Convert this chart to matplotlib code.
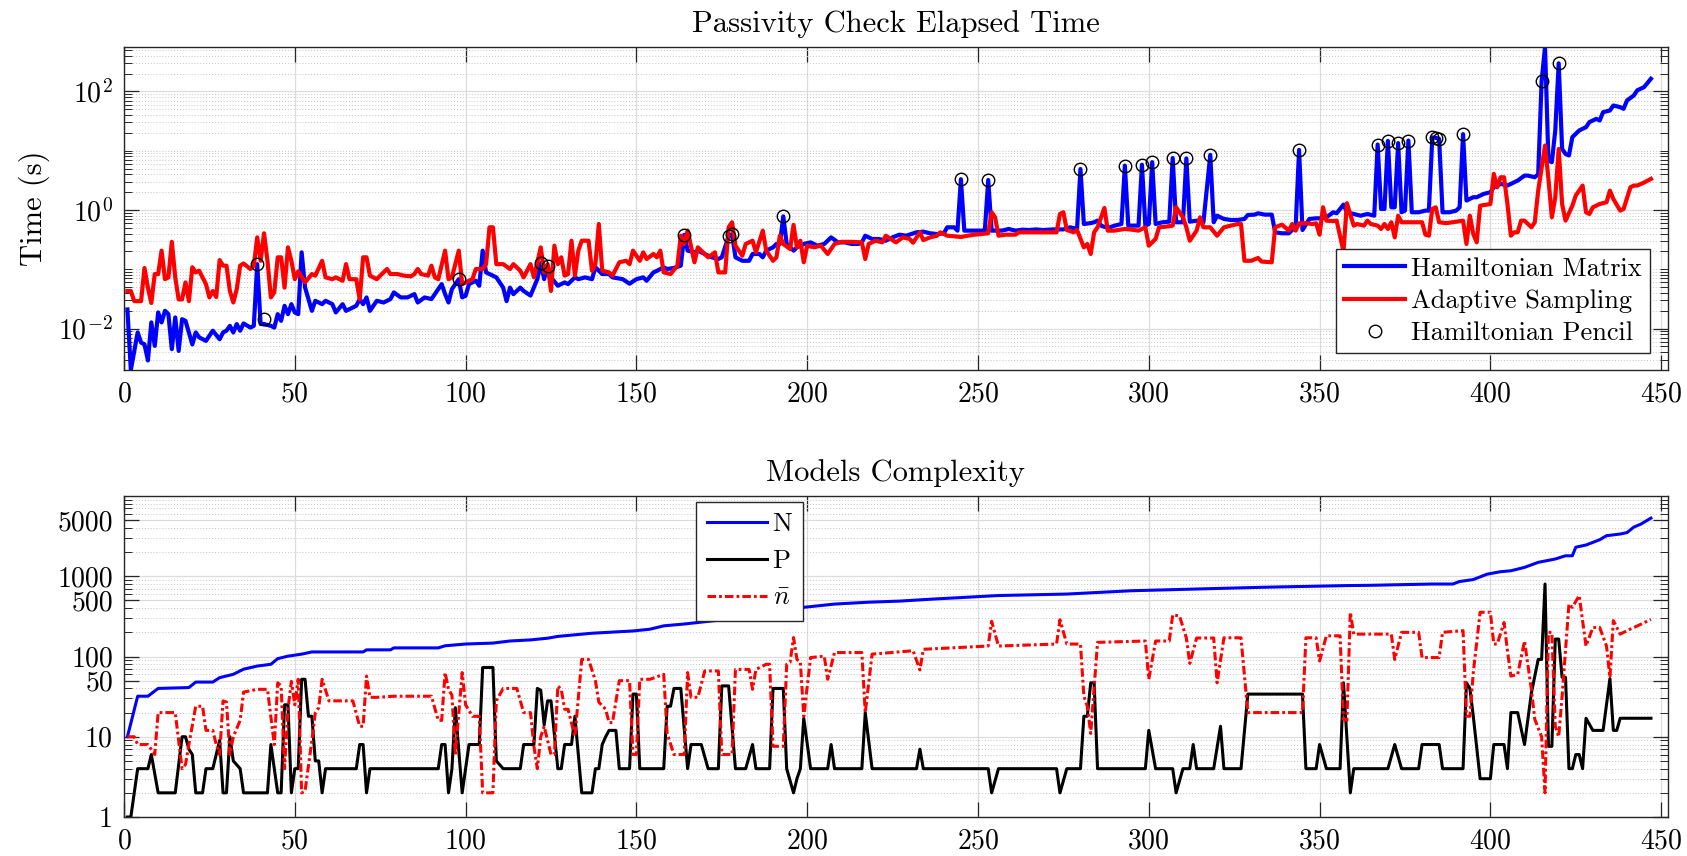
import numpy as np
import matplotlib.pyplot as plt
from matplotlib.ticker import FixedLocator, NullFormatter

plt.rcParams['font.family'] = 'serif'
plt.rcParams['font.serif'] = ['cmr10']
plt.rcParams['mathtext.fontset'] = 'cm'
plt.rcParams['axes.formatter.use_mathtext'] = True

# --- passivity check timings (s), vertices by model index ---
ham_x = [1, 2, 4, 5, 6, 7, 8, 9, 10, 11, 12, 13, 14, 15, 16, 17, 18, 20, 21, 22,
         24, 26, 28, 29, 30, 31, 32, 33, 34, 35, 37, 38, 39, 40, 41, 43, 44, 45, 46, 47,
         48, 49, 50, 51, 52, 53, 55, 56, 58, 59, 61, 62, 64, 65, 67, 68, 69, 70, 71, 72,
         74, 76, 78, 79, 81, 83, 85, 86, 88, 90, 91, 93, 94, 95, 96, 98, 99, 100, 101, 103,
         104, 105, 106, 108, 109, 111, 112, 113, 114, 116, 117, 119, 121, 122, 123, 124, 125, 127, 129, 130,
         132, 133, 135, 137, 138, 140, 142, 143, 146, 148, 150, 152, 153, 155, 156, 158, 159, 161, 163, 164,
         165, 167, 168, 170, 172, 174, 175, 177, 178, 179, 181, 183, 184, 186, 187, 188, 190, 191, 192, 193,
         194, 196, 197, 199, 201, 203, 205, 207, 209, 211, 213, 215, 216, 217, 219, 221, 223, 225, 227, 229,
         232, 234, 236, 238, 240, 241, 243, 244, 245, 246, 249, 252, 253, 254, 257, 259, 261, 263, 265, 267,
         269, 272, 275, 277, 279, 280, 281, 283, 284, 285, 286, 288, 290, 292, 293, 294, 297, 298, 299, 300,
         301, 302, 304, 306, 307, 308, 310, 311, 312, 314, 316, 318, 319, 320, 322, 324, 326, 328, 329, 331,
         332, 334, 336, 337, 339, 341, 343, 344, 345, 347, 349, 350, 352, 354, 355, 357, 358, 360, 362, 364,
         366, 367, 368, 369, 370, 371, 372, 373, 374, 375, 376, 377, 379, 381, 382, 383, 384, 385, 386, 388,
         390, 391, 392, 393, 395, 396, 398, 400, 401, 403, 405, 406, 408, 410, 411, 413, 414, 415, 416, 417,
         418, 419, 420, 421, 422, 423, 424, 426, 428, 429, 431, 432, 433, 435, 436, 438, 439, 440, 442, 443,
         445, 447]
ham_t = [0.021, 0.002, 0.0086, 0.0058, 0.0054, 0.0029, 0.0127, 0.0051, 0.0187, 0.0127, 0.0199, 0.0175, 0.0045, 0.0154, 0.0042, 0.0144, 0.0135, 0.0054, 0.0086, 0.0071,
         0.0062, 0.0092, 0.0066, 0.0086, 0.0092, 0.0111, 0.0086, 0.0119, 0.0092, 0.0122, 0.0104, 0.0111, 0.122, 0.0119, 0.0119, 0.0111, 0.0104, 0.0175, 0.0135, 0.0242,
         0.0175, 0.0258, 0.0187, 0.0175, 0.193, 0.0494, 0.0199, 0.0294, 0.0258, 0.0294, 0.0258, 0.0187, 0.0258, 0.0199, 0.0227, 0.0242, 0.0314, 0.0258, 0.0335, 0.0199,
         0.0294, 0.0275, 0.0314, 0.0407, 0.0335, 0.0335, 0.0381, 0.0275, 0.0335, 0.0314, 0.0381, 0.0562, 0.0381, 0.0275, 0.0463, 0.068, 0.0335, 0.0357, 0.0562, 0.064,
         0.0527, 0.206, 0.0885, 0.078, 0.073, 0.049, 0.029, 0.049, 0.038, 0.049, 0.043, 0.036, 0.068, 0.127, 0.068, 0.115, 0.073, 0.0527, 0.060, 0.0562,
         0.073, 0.068, 0.073, 0.068, 0.108, 0.083, 0.083, 0.073, 0.068, 0.057, 0.068, 0.073, 0.064, 0.0885, 0.094, 0.108, 0.101, 0.105, 0.115, 0.38,
         0.206, 0.193, 0.206, 0.181, 0.159, 0.149, 0.159, 0.36, 0.39, 0.159, 0.139, 0.139, 0.181, 0.181, 0.159, 0.206, 0.234, 0.267, 0.267, 0.78,
         0.267, 0.206, 0.234, 0.267, 0.284, 0.25, 0.267, 0.345, 0.284, 0.284, 0.267, 0.267, 0.284, 0.368, 0.324, 0.324, 0.303, 0.345, 0.383, 0.368,
         0.42, 0.431, 0.404, 0.393, 0.404, 0.51, 0.51, 0.448, 3.3, 0.448, 0.448, 0.448, 3.2, 0.448, 0.448, 0.478, 0.448, 0.465, 0.459, 0.47,
         0.459, 0.47, 0.47, 0.51, 0.478, 4.9, 0.58, 0.6, 0.62, 0.66, 0.544, 0.497, 0.544, 0.58, 5.6, 0.544, 0.544, 5.8, 0.544, 0.58,
         6.4, 0.58, 0.62, 0.635, 7.5, 0.62, 0.62, 7.4, 0.635, 0.66, 0.62, 8.5, 0.62, 0.80, 0.705, 0.678, 0.678, 0.705, 0.823, 0.834,
         0.879, 0.834, 0.834, 0.42, 0.404, 0.404, 0.523, 10.3, 0.459, 0.705, 0.723, 0.723, 0.752, 0.914, 0.879, 1.23, 0.914, 0.856, 0.80, 0.856,
         0.80, 12.7, 1.04, 1.04, 14.6, 1.11, 1.11, 13.4, 0.914, 0.975, 14.8, 0.914, 0.914, 0.975, 0.975, 16.7, 16.5, 15.8, 0.914, 0.914,
         0.975, 1.11, 19.0, 1.44, 1.64, 1.64, 1.86, 1.99, 2.41, 2.75, 2.58, 2.75, 3.13, 3.80, 3.80, 3.56, 4.0, 149.0, 560.0, 6.8,
         6.4, 22.0, 297.0, 10.7, 8.8, 8.3, 16.9, 21.9, 24.9, 30.3, 34.4, 32.3, 44.6, 47.6, 57.8, 54.2, 50.8, 70.3, 85.3, 104.0,
         118.0, 163.0]

ada_x = [1, 2, 3, 5, 6, 7, 8, 9, 10, 11, 12, 13, 14, 15, 16, 17, 18, 19, 20, 21,
         22, 23, 24, 25, 26, 27, 28, 29, 30, 31, 32, 33, 34, 35, 37, 38, 39, 40, 41, 42,
         43, 44, 45, 46, 47, 48, 49, 50, 51, 53, 55, 56, 58, 59, 61, 62, 64, 65, 66, 68,
         69, 70, 71, 72, 74, 75, 77, 78, 80, 82, 84, 85, 86, 87, 89, 90, 91, 92, 94, 95,
         96, 98, 99, 101, 102, 103, 105, 106, 107, 108, 109, 111, 113, 114, 116, 117, 119, 120, 121, 122,
         123, 124, 125, 126, 127, 128, 129, 130, 131, 132, 133, 134, 136, 137, 138, 139, 140, 142, 143, 145,
         147, 148, 149, 151, 152, 153, 155, 156, 157, 158, 160, 162, 163, 164, 165, 167, 168, 170, 171, 173,
         174, 176, 177, 178, 179, 181, 182, 184, 185, 187, 188, 190, 191, 192, 193, 195, 196, 197, 198, 199,
         200, 202, 204, 206, 208, 210, 213, 216, 217, 218, 220, 222, 223, 225, 226, 228, 230, 231, 233, 234,
         236, 238, 239, 241, 243, 245, 247, 249, 251, 253, 254, 255, 256, 258, 261, 262, 273, 274, 275, 276,
         278, 279, 281, 282, 283, 284, 285, 287, 288, 290, 291, 293, 295, 297, 299, 300, 302, 303, 305, 307,
         308, 310, 311, 312, 314, 315, 316, 318, 320, 322, 324, 326, 327, 328, 330, 332, 333, 336, 337, 339,
         341, 342, 343, 344, 346, 348, 349, 350, 351, 352, 354, 355, 357, 358, 360, 361, 363, 364, 365, 367,
         368, 369, 370, 371, 372, 373, 374, 380, 381, 382, 383, 384, 385, 387, 389, 392, 393, 394, 395, 396,
         397, 400, 401, 402, 403, 404, 405, 406, 407, 408, 409, 410, 412, 413, 414, 416, 417, 418, 419, 420,
         421, 422, 424, 425, 427, 428, 429, 430, 432, 434, 435, 436, 438, 439, 441, 442, 443, 445, 447]
ada_t = [0.043, 0.043, 0.029, 0.029, 0.105, 0.049, 0.027, 0.083, 0.083, 0.206, 0.068, 0.073, 0.29, 0.073, 0.031, 0.031, 0.060, 0.029, 0.108, 0.0885,
         0.0945, 0.073, 0.056, 0.0335, 0.043, 0.034, 0.143, 0.115, 0.115, 0.043, 0.0275, 0.046, 0.115, 0.125, 0.101, 0.115, 0.345, 0.139, 0.404, 0.139,
         0.0335, 0.041, 0.159, 0.159, 0.049, 0.234, 0.139, 0.068, 0.092, 0.06, 0.083, 0.078, 0.139, 0.073, 0.068, 0.073, 0.064, 0.122, 0.068, 0.068,
         0.031, 0.159, 0.159, 0.078, 0.068, 0.078, 0.101, 0.083, 0.083, 0.078, 0.076, 0.083, 0.101, 0.083, 0.078, 0.115, 0.073, 0.068, 0.206, 0.068,
         0.073, 0.206, 0.056, 0.064, 0.068, 0.101, 0.101, 0.122, 0.51, 0.51, 0.122, 0.122, 0.101, 0.122, 0.0945, 0.073, 0.122, 0.073, 0.131, 0.234,
         0.0885, 0.122, 0.043, 0.25, 0.122, 0.159, 0.078, 0.083, 0.303, 0.078, 0.206, 0.303, 0.303, 0.0945, 0.122, 0.58, 0.0945, 0.0885, 0.078, 0.131,
         0.139, 0.122, 0.206, 0.139, 0.193, 0.149, 0.181, 0.159, 0.206, 0.0885, 0.083, 0.115, 0.368, 0.267, 0.448, 0.131, 0.234, 0.181, 0.159, 0.193,
         0.0885, 0.0885, 0.51, 0.62, 0.25, 0.169, 0.267, 0.303, 0.193, 0.448, 0.206, 0.139, 0.159, 0.368, 0.267, 0.219, 0.56, 0.234, 0.303, 0.131,
         0.25, 0.234, 0.25, 0.181, 0.267, 0.29, 0.29, 0.284, 0.149, 0.267, 0.303, 0.284, 0.368, 0.31, 0.284, 0.345, 0.324, 0.28, 0.42, 0.31,
         0.345, 0.368, 0.42, 0.368, 0.36, 0.35, 0.368, 0.383, 0.393, 0.404, 0.914, 0.752, 0.368, 0.383, 0.383, 0.42, 0.42, 0.856, 0.914, 0.459,
         0.42, 0.459, 0.234, 0.267, 0.181, 0.42, 0.51, 1.08, 0.448, 0.448, 0.459, 0.478, 0.465, 0.448, 0.51, 0.25, 0.324, 0.51, 0.523, 0.544,
         1.11, 0.752, 0.51, 0.303, 0.448, 0.752, 0.51, 0.51, 0.368, 0.51, 0.544, 0.58, 0.58, 0.139, 0.139, 0.155, 0.135, 0.131, 0.51, 0.565,
         0.448, 0.58, 0.448, 0.596, 0.596, 0.58, 0.596, 0.383, 1.11, 0.66, 0.65, 0.66, 0.20, 1.3, 0.544, 0.58, 0.544, 0.66, 0.58, 0.544,
         0.478, 0.58, 0.478, 0.62, 0.345, 0.80, 0.62, 0.62, 0.383, 0.368, 1.04, 1.11, 0.62, 0.60, 0.62, 0.66, 0.267, 0.80, 0.393, 0.284,
         1.18, 1.26, 4.06, 2.41, 3.56, 3.56, 1.26, 0.368, 0.42, 0.42, 0.66, 0.66, 0.51, 0.62, 2.12, 12.2, 3.34, 0.752, 1.64, 10.7,
         1.26, 0.66, 1.18, 1.75, 2.58, 0.914, 0.856, 1.11, 1.26, 1.35, 2.12, 1.53, 0.975, 1.04, 2.41, 2.58, 2.58, 2.9, 3.34]

pencil_x = [39, 41, 98, 122, 124, 164, 177, 178, 193, 245, 253, 280, 293, 298, 301,
            307, 311, 318, 344, 367, 370, 373, 376, 383, 384, 385, 392, 415, 420]
pencil_t = [0.122, 0.0144, 0.068, 0.127, 0.115, 0.38, 0.36, 0.39, 0.78, 3.3, 3.2, 4.9, 5.6, 5.8, 6.4,
            7.5, 7.4, 8.5, 10.3, 12.7, 14.6, 13.4, 14.8, 16.7, 16.5, 15.8, 19.0, 149.0, 297.0]

# --- model complexity ---
N_x = [1, 4, 7, 10, 19, 21, 26, 28, 32, 35, 39, 43, 45, 48, 52, 55, 70, 71, 78, 79,
       92, 94, 100, 108, 113, 119, 124, 127, 137, 149, 154, 158, 164, 173, 178, 186, 195, 199, 208, 218,
       227, 237, 256, 276, 295, 315, 334, 358, 364, 383, 389, 391, 395, 399, 403, 406, 410, 414, 419, 422,
       424, 425, 428, 432, 434, 438, 440, 442, 444, 447]
N_val = [10, 32, 32, 40, 41, 48, 48, 54.5, 60, 69.5, 76, 80, 94, 101, 107, 114, 114, 121, 121, 128,
         128, 136, 143, 147, 156, 161, 169, 178, 195, 208, 219, 241, 254, 280, 300, 330, 373, 410, 450, 475,
         490, 520, 575, 600, 660, 695, 730, 765, 770, 800, 800, 860, 910, 1060, 1140, 1170, 1290, 1490, 1640, 1800,
         1800, 2300, 2450, 2850, 3200, 3360, 3500, 4100, 4450, 5300]

P_x = [1, 2, 4, 7, 8, 10, 15, 17, 18, 19, 20, 21, 23, 24, 26, 27, 28, 29, 30, 31,
       32, 34, 35, 42, 43, 45, 46, 47, 48, 49, 50, 51, 52, 53, 54, 55, 56, 57, 58, 59,
       68, 69, 70, 71, 72, 92, 93, 94, 95, 96, 97, 99, 101, 104, 105, 108, 109, 111, 116, 117,
       120, 121, 122, 123, 124, 125, 127, 128, 129, 131, 132, 134, 137, 138, 139, 140, 141, 142, 144, 145,
       148, 149, 150, 151, 158, 159, 160, 161, 163, 165, 166, 169, 171, 174, 175, 177, 179, 182, 184, 185,
       189, 190, 193, 194, 196, 197, 198, 199, 201, 206, 207, 208, 216, 217, 219, 232, 233, 234, 253, 254,
       256, 273, 274, 276, 280, 281, 282, 283, 284, 285, 299, 300, 302, 307, 308, 310, 312, 313, 314, 319,
       321, 322, 327, 329, 345, 346, 349, 350, 352, 356, 357, 359, 360, 370, 372, 374, 379, 380, 385, 386,
       392, 393, 394, 395, 397, 400, 401, 404, 405, 406, 408, 410, 412, 414, 415, 416, 417, 418, 419, 420,
       421, 422, 423, 424, 425, 426, 427, 428, 430, 433, 435, 436, 437, 438, 447]
P_val = [1, 1, 4, 4, 6, 2, 2, 10, 10, 7, 6, 2, 2, 4, 4, 6, 9, 2, 2, 10,
         5, 4, 2, 2, 8, 2, 2, 25, 25, 2, 4, 4, 52, 52, 18, 18, 5, 5, 2, 4,
         4, 8, 8, 2, 4, 4, 8, 8, 2, 4, 23, 2, 8, 8, 73, 73, 5, 4, 4, 8,
         8, 40, 38, 14, 28, 28, 4, 4, 8, 8, 18, 2, 2, 4, 4, 8, 10, 12, 12, 4,
         4, 34, 34, 4, 4, 24, 24, 40, 40, 4, 8, 8, 4, 4, 43, 43, 4, 4, 8, 4,
         4, 40, 40, 4, 2, 3, 4, 17, 4, 4, 8, 4, 4, 20, 4, 4, 7, 4, 4, 2,
         4, 4, 2, 4, 4, 18, 18, 47, 47, 4, 4, 12, 4, 4, 2, 4, 4, 8, 4, 4,
         13.5, 4, 4, 34, 34, 4, 4, 8, 4, 4, 47, 2, 4, 4, 8, 4, 4, 8, 8, 4,
         4, 47, 40, 18, 3, 3, 8, 8, 4, 20, 20, 8, 35, 92, 92, 800, 7.6, 7.6, 165, 165,
         55, 55, 4, 4, 6, 6, 4, 17, 12, 12, 53, 12, 12, 17, 17]

nbar_x = [1, 3, 4, 7, 9, 10, 15, 17, 18, 19, 21, 23, 24, 26, 27, 28, 29, 30, 31, 32,
          34, 35, 39, 42, 44, 45, 46, 47, 48, 49, 50, 51, 52, 53, 55, 56, 57, 58, 60, 67,
          69, 70, 71, 72, 74, 79, 90, 92, 93, 94, 95, 96, 97, 99, 100, 102, 104, 105, 108, 109,
          111, 115, 117, 119, 120, 121, 122, 123, 125, 126, 127, 128, 129, 130, 132, 134, 136, 138, 139, 141,
          142, 143, 145, 148, 149, 150, 151, 154, 158, 159, 161, 164, 165, 166, 168, 170, 174, 175, 178, 179,
          183, 184, 185, 188, 189, 190, 193, 194, 195, 196, 197, 198, 199, 201, 205, 206, 208, 216, 217, 219,
          231, 233, 234, 253, 254, 256, 273, 274, 276, 280, 281, 282, 283, 285, 299, 300, 302, 306, 307, 309,
          311, 312, 314, 319, 320, 322, 327, 329, 345, 346, 349, 350, 352, 356, 357, 358, 359, 360, 371, 372,
          374, 379, 380, 385, 386, 392, 393, 394, 395, 397, 400, 401, 402, 404, 405, 406, 408, 410, 412, 413,
          415, 416, 417, 418, 419, 420, 421, 423, 424, 426, 428, 430, 432, 434, 435, 436, 438, 440, 441, 443,
          447]
nbar_val = [10, 10, 8, 8, 6, 20, 20, 4, 4.5, 8, 24, 24, 12, 12, 8, 6, 28, 27, 6, 10,
            16, 36, 39, 39, 8, 47, 43, 4, 22, 49, 25, 52, 2, 2.1, 9, 20, 23, 52, 28, 28,
            13.5, 13.5, 57, 31, 31, 32, 32, 16, 16, 63, 39, 33, 6, 63, 25, 18, 18, 2, 2, 28,
            40, 40, 20, 20, 7.6, 4, 10, 13.5, 6, 6, 43, 39, 22, 22, 10, 92, 92, 50, 27, 22,
            15, 15, 50, 50, 6, 6, 52, 52, 60, 11, 6, 6, 63, 31, 31, 66, 66, 6, 6, 69,
            69, 39, 69, 80, 80, 7.6, 7.6, 80, 85, 172, 92, 85, 18, 97, 101, 52, 112, 112, 20, 107,
            118, 68, 123, 135, 275, 135, 143, 287, 143, 143, 32, 24, 11, 150, 156, 52, 156, 156, 330, 320,
            170, 82, 170, 170, 47, 171, 171, 20, 20, 171, 171, 88, 181, 181, 16.5, 16, 356, 190, 190, 92,
            200, 200, 97, 97, 200, 210, 18, 18, 63, 356, 356, 143, 143, 265, 118, 57, 60, 156, 39, 16.5,
            10, 2, 200, 200, 13.5, 10, 32, 450, 410, 575, 135, 230, 230, 135, 55, 280, 190, 210, 220, 240,
            290]


def minor_locs(lo, hi, majors):
    locs = []
    for e in range(lo, hi + 1):
        for k in range(1, 10):
            v = k * 10.0 ** e
            if not np.any(np.isclose(v, majors)):
                locs.append(v)
    return locs


def style_axes(ax):
    ax.set_axisbelow(True)
    ax.grid(True, which='major', color='#dcdcdc', lw=0.9, ls='-')
    ax.grid(True, which='minor', axis='y', color='#c4c4c4', lw=0.7, ls=(0, (1, 2)))
    ax.tick_params(which='both', direction='in', top=True, right=True,
                   color='#262626', labelsize=20, pad=8)
    ax.tick_params(which='major', length=11, width=0.9)
    ax.tick_params(which='minor', length=6, width=0.7)
    for s in ax.spines.values():
        s.set_color('#262626')
        s.set_linewidth(1.0)
    ax.set_xlim(0, 452)
    ax.set_xticks(np.arange(0, 451, 50))
    ax.yaxis.set_minor_formatter(NullFormatter())


fig = plt.figure(figsize=(16.87, 8.56), dpi=100)
ax1 = fig.add_axes([124 / 1687, 1 - 370 / 856, 1544 / 1687, 323 / 856])
ax2 = fig.add_axes([124 / 1687, 1 - 817 / 856, 1544 / 1687, 321 / 856])

# top: elapsed time
ax1.set_yscale('log')
ax1.plot(ham_x, ham_t, color='#0000ff', lw=3, label='Hamiltonian Matrix')
ax1.plot(ada_x, ada_t, color='#ff0000', lw=3, label='Adaptive Sampling')
ax1.plot(pencil_x, pencil_t, ls='none', marker='o', ms=9, mfc='none', mec='black',
         mew=1.0, label='Hamiltonian Pencil')
ax1.set_ylim(0.002, 560)
style_axes(ax1)
ax1.yaxis.set_major_locator(FixedLocator([1e-2, 1e0, 1e2]))
ax1.yaxis.set_minor_locator(FixedLocator(minor_locs(-3, 2, [1e-2, 1e0, 1e2])))
ax1.set_ylabel('Time (s)', fontsize=22, labelpad=6)
ax1.set_title('Passivity Check Elapsed Time', fontsize=22, pad=11)
leg1 = ax1.legend(loc='lower right', bbox_to_anchor=(1650 / 1687, 1 - 353 / 856),
                  bbox_transform=fig.transFigure, fontsize=19, handlelength=2.3,
                  handletextpad=0.25, borderpad=0.3, labelspacing=0.32,
                  fancybox=False, framealpha=1, borderaxespad=0)
leg1.get_frame().set_edgecolor('#262626')
leg1.get_frame().set_linewidth(1.0)

# bottom: model orders
ax2.set_yscale('log')
ax2.plot(N_x, N_val, color='#0000ff', lw=2.2, label='N')
ax2.plot(P_x, P_val, color='black', lw=2.2, label='P')
ax2.plot(nbar_x, nbar_val, color='#ff0000', lw=2.2, ls=(0, (2.8, 1.0, 0.9, 1.0)),
         label=r'$\bar{n}$')
ax2.set_ylim(1, 10000)
style_axes(ax2)
ymaj = [1, 10, 50, 100, 500, 1000, 5000]
ax2.yaxis.set_major_locator(FixedLocator(ymaj))
ax2.set_yticklabels([str(v) for v in ymaj])
ax2.yaxis.set_minor_locator(FixedLocator(minor_locs(0, 3, ymaj)))
ax2.set_title('Models Complexity', fontsize=22, pad=11)
leg2 = ax2.legend(loc='upper left', bbox_to_anchor=(696 / 1687, 1 - 502 / 856),
                  bbox_transform=fig.transFigure, fontsize=19, handlelength=2.3,
                  handletextpad=0.2, borderpad=0.4, labelspacing=0.5,
                  fancybox=False, framealpha=1, borderaxespad=0)
leg2.get_frame().set_edgecolor('#262626')
leg2.get_frame().set_linewidth(1.0)

fig.savefig('out.png', dpi=100)
